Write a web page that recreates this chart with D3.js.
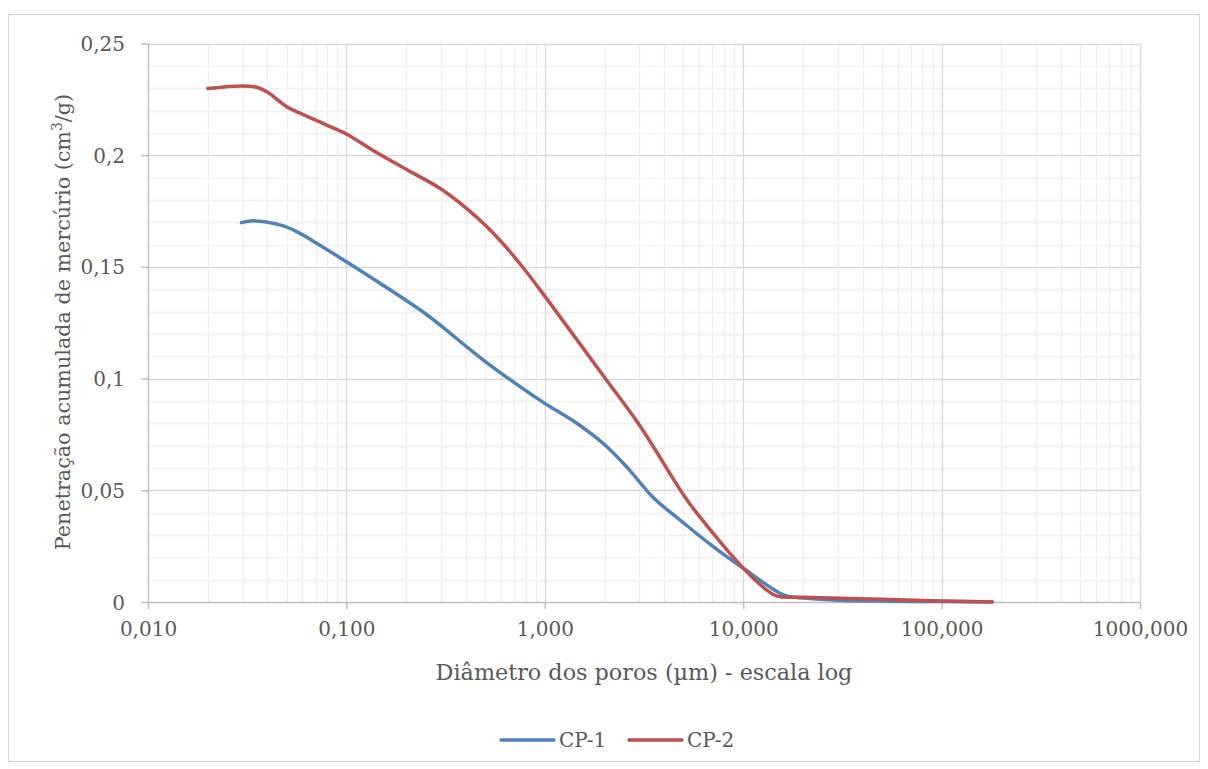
<!DOCTYPE html>
<html>
<head>
<meta charset="utf-8">
<script src="https://cdn.jsdelivr.net/npm/d3@7/dist/d3.min.js"></script>
<style>
  html, body { margin: 0; padding: 0; background: #fff; }
  svg { display: block; }
  text { font-family: "DejaVu Serif", "Liberation Serif", serif; fill: #595959; }
</style>
</head>
<body>
<svg id="chart" width="1208" height="769"></svg>
<script>
// Pore diameter (µm) and cumulative mercury intrusion (cm³/g)
const cp1Diameter = [0.0296, 0.0332, 0.0462, 0.0562, 0.0708, 0.10, 0.1476, 0.2445, 0.296, 0.49, 0.75, 1.0, 1.45, 2.01, 2.58, 3.52, 4.80, 7.06, 10.0, 15.3, 17.2, 20, 30, 50, 100, 180];
const cp1Volume   = [0.1698, 0.1706, 0.1688, 0.1658, 0.1606, 0.1523, 0.1427, 0.1297, 0.1240, 0.1083, 0.0964, 0.0889, 0.0800, 0.0703, 0.0606, 0.0468, 0.0367, 0.0248, 0.0151, 0.0039, 0.0024, 0.0018, 0.0008, 0.0004, 0.0002, 0.0001];

const cp2Diameter = [0.020, 0.030, 0.0353, 0.0397, 0.050, 0.0584, 0.0796, 0.10, 0.137, 0.201, 0.296, 0.403, 0.509, 0.643, 0.811, 1.0, 2.01, 3.02, 5.19, 7.06, 8.57, 10.4, 13.1, 14.8, 20, 50, 100, 180];
const cp2Volume   = [0.2299, 0.2310, 0.2304, 0.2284, 0.2217, 0.2188, 0.2135, 0.2095, 0.2020, 0.1936, 0.1852, 0.1762, 0.1681, 0.1585, 0.1476, 0.1369, 0.1003, 0.0788, 0.0459, 0.0307, 0.0218, 0.0136, 0.0054, 0.0026, 0.0021, 0.0012, 0.0005, 0.0000];

const seriesNames = ["CP-1", "CP-2"];
const seriesColors = ["#4f81bd", "#c0504d"];

const xTickValues = [0.01, 0.1, 1, 10, 100, 1000];
const xTickLabels = ["0,010", "0,100", "1,000", "10,000", "100,000", "1000,000"];
const yTickValues = [0, 0.05, 0.1, 0.15, 0.2, 0.25];
const yTickLabels = ["0", "0,05", "0,1", "0,15", "0,2", "0,25"];

const xTitle = "Diâmetro dos poros (µm) - escala log";

const svg = d3.select("#chart");
const plot = { left: 148, right: 1140, top: 43.5, bottom: 602 };

// chart frame
svg.append("rect")
  .attr("x", 8.5).attr("y", 14.5)
  .attr("width", 1191).attr("height", 747)
  .attr("fill", "#fff").attr("stroke", "#d9d9d9").attr("stroke-width", 1);

const x = d3.scaleLog().domain([0.01, 1000]).range([plot.left, plot.right]);
const y = d3.scaleLinear().domain([0, 0.25]).range([plot.bottom, plot.top]);

const grid = svg.append("g");

// minor vertical grid: 2..9 in each decade
const minorX = [];
for (let e = -2; e < 3; e++) {
  for (let m = 2; m <= 9; m++) minorX.push(m * Math.pow(10, e));
}
grid.selectAll("line.mx").data(minorX).join("line")
  .attr("x1", d => Math.round(x(d)) + 0.5).attr("x2", d => Math.round(x(d)) + 0.5)
  .attr("y1", plot.top).attr("y2", plot.bottom)
  .attr("stroke", "#f0f0f0").attr("stroke-width", 1.3);

// minor horizontal grid every 0.01
const minorY = d3.range(1, 25).map(i => i / 100).filter(v => Math.round(v * 100) % 5 !== 0);
grid.selectAll("line.my").data(minorY).join("line")
  .attr("x1", plot.left).attr("x2", plot.right)
  .attr("y1", d => Math.round(y(d)) + 0.5).attr("y2", d => Math.round(y(d)) + 0.5)
  .attr("stroke", "#f0f0f0").attr("stroke-width", 1.3);

// major grid
grid.selectAll("line.MX").data(xTickValues.slice(1)).join("line")
  .attr("x1", d => Math.round(x(d)) + 0.5).attr("x2", d => Math.round(x(d)) + 0.5)
  .attr("y1", plot.top).attr("y2", plot.bottom)
  .attr("stroke", "#d9d9d9").attr("stroke-width", 1.3);
grid.selectAll("line.MY").data(yTickValues.slice(1)).join("line")
  .attr("x1", plot.left).attr("x2", plot.right)
  .attr("y1", d => Math.round(y(d)) + 0.5).attr("y2", d => Math.round(y(d)) + 0.5)
  .attr("stroke", "#d9d9d9").attr("stroke-width", 1.3);

// axes
const xAxis = d3.axisBottom(x).tickValues(xTickValues)
  .tickFormat((d, i) => xTickLabels[i]).tickSize(7).tickSizeOuter(0).tickPadding(13);
const yAxis = d3.axisLeft(y).tickValues(yTickValues)
  .tickFormat((d, i) => yTickLabels[i]).tickSize(7).tickSizeOuter(0).tickPadding(16);

const gx = svg.append("g").attr("transform", `translate(0,${plot.bottom})`).call(xAxis);
const gy = svg.append("g").attr("transform", `translate(${plot.left},0)`).call(yAxis);
[gx, gy].forEach(g => {
  g.select(".domain").attr("stroke", "#bfbfbf").attr("stroke-width", 1.5);
  g.selectAll(".tick line").attr("stroke", "#bfbfbf").attr("stroke-width", 1.5);
  g.selectAll(".tick text").attr("font-family", "DejaVu Serif").attr("font-size", 20).attr("fill", "#595959");
});
gy.selectAll(".tick text").attr("dy", "0.35em");

// series, smoothed like spreadsheet lines
const line = d3.line().x(d => x(d[0])).y(d => y(d[1])).curve(d3.curveCatmullRom.alpha(0.5));
const series = [
  d3.zip(cp1Diameter, cp1Volume),
  d3.zip(cp2Diameter, cp2Volume)
];
svg.append("g").selectAll("path").data(series).join("path")
  .attr("d", line)
  .attr("fill", "none")
  .attr("stroke", (d, i) => seriesColors[i])
  .attr("stroke-width", 3.5)
  .attr("stroke-linecap", "round")
  .attr("stroke-linejoin", "round");

// axis titles
svg.append("text")
  .attr("x", 644).attr("y", 680)
  .attr("text-anchor", "middle").attr("font-size", 22.3)
  .text(xTitle);

const yt = svg.append("text")
  .attr("transform", `translate(70,322) rotate(-90)`)
  .attr("text-anchor", "middle").attr("font-size", 20.7);
yt.append("tspan").text("Penetração acumulada de mercúrio (cm");
yt.append("tspan").attr("dy", -8).attr("font-size", 14).text("3");
yt.append("tspan").attr("dy", 8).text("/g)");

// legend
const legend = svg.append("g");
const legendX = [501, 629];
seriesNames.forEach((name, i) => {
  const g = legend.append("g").attr("transform", `translate(${legendX[i]},740)`);
  g.append("line").attr("x1", 0).attr("x2", 53).attr("y1", 0).attr("y2", 0)
    .attr("stroke", seriesColors[i]).attr("stroke-width", 3.5).attr("stroke-linecap", "round");
  g.append("text").attr("x", 58).attr("y", 0).attr("dy", "0.35em")
    .attr("font-size", 20).text(name);
});
</script>
</body>
</html>
